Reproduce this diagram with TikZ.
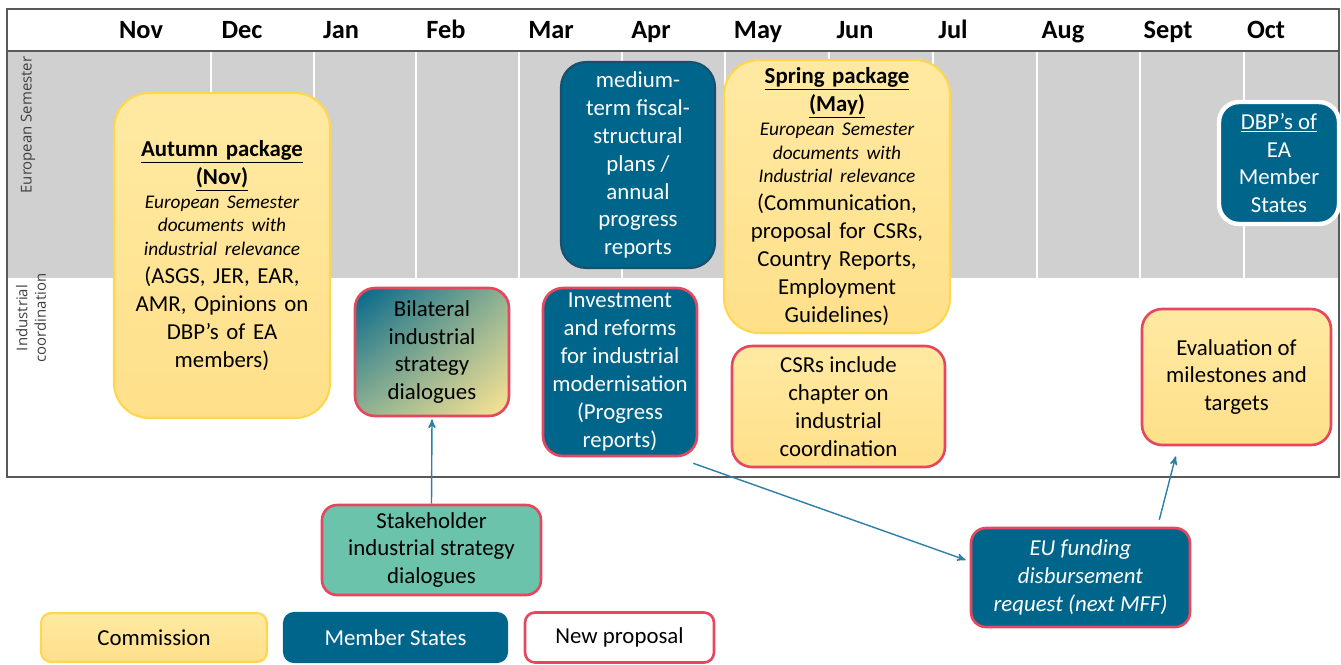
\documentclass[tikz,border=0pt]{standalone}
\usepackage{fontspec}
\setmainfont{Carlito}
\newfontfamily\lanefont{Open Sans}
\usepackage{xcolor}
\usepackage{tikz}
\usetikzlibrary{arrows}
\usetikzlibrary{shadings}
\definecolor{comtop}{HTML}{FFE9A2}
\definecolor{combot}{HTML}{FFE08A}
\definecolor{comfill}{HTML}{FFE594}
\definecolor{comline}{HTML}{FFD64F}
\definecolor{msfill}{HTML}{00658A}
\definecolor{msline}{HTML}{1A4F6E}
\definecolor{newline}{HTML}{E6475E}
\definecolor{mint}{HTML}{6CC3AB}
\definecolor{bimid}{HTML}{8FB292}
\definecolor{bandgray}{HTML}{D0D0D0}
\definecolor{framegray}{HTML}{595959}
\definecolor{lanegray}{HTML}{404040}
\definecolor{arrowblue}{HTML}{2E7FA6}
\newcommand{\bodyfont}{\fontsize{13}{15.9}\selectfont}
\newcommand{\notefont}{\fontsize{11}{13.6}\selectfont\itshape}
\tikzset{
    tl_box/.style = {align=center, inner sep=1pt, rounded corners=0.4cm, line width=1.2pt, font=\bodyfont},
    com_node/.style = {tl_box, top color=comtop, bottom color=combot, draw=comline},
    ms_node/.style = {tl_box, fill=msfill, draw=msline, text=white},
    red_line/.style = {draw=newline, line width=1.5pt},
    month/.style = {anchor=base, font=\fontsize{15}{18}\selectfont\bfseries},
    lane/.style = {rotate=90, align=center, text=lanegray, font=\lanefont\fontsize{8.5}{10.5}\selectfont},
    link/.style = {->, draw=arrowblue, line width=0.8pt}
}
\begin{document}
\begin{tikzpicture}[x=0.02cm, y=-0.02cm, >=stealth']
\useasboundingbox (0,0) rectangle (1341,664);
% timeline grid
\fill[bandgray] (7,51) rectangle (1339,278);
\foreach \x in {211,314,416,519,622,725,829,933,1037,1140,1244}
    \draw[white, line width=1pt] (\x,51) -- (\x,278);
\draw[framegray, line width=1pt] (7,9) rectangle (1339,477);
\draw[framegray, line width=1pt] (7,51) -- (1339,51);
\foreach \m/\x in {Nov/141,Dec/242,Jan/341,Feb/446,Mar/551,Apr/651,May/758,Jun/855,Jul/953,Aug/1063,Sept/1168,Oct/1266}
    \node[month] (m\m) at (\x,38) {\m};
\node[lane] (lane_es) at (28,125) {European Semester};
\node[lane] (lane_ic) at (31,318) {Industrial\\coordination};

% boxes
\node[com_node, rounded corners=0.7cm, minimum width=4.32cm, minimum height=6.5cm, text width=4.1cm] (autumn) at (222,255.5)
    {{\bfseries\underline{Autumn package}\\\underline{(Nov)}\par}{\notefont European Semester\\documents with\\industrial relevance\par}(ASGS, JER, EAR,\\AMR, Opinions on\\DBP's of EA\\members)};
\node[ms_node, rounded corners=0.5cm, minimum width=3.08cm, minimum height=4.12cm] (mtfs) at (638,165)
    {medium-\\term fiscal-\\structural\\plans /\\annual\\progress\\reports};
\node[com_node, rounded corners=0.7cm, minimum width=4.52cm, minimum height=5.46cm, text width=4.35cm] (spring) at (837,196.5)
    {{\bfseries\underline{Spring package}\\\underline{(May)}\par}{\notefont European Semester\\documents with\\Industrial relevance\par}(Communication,\\proposal for CSRs,\\Country Reports,\\Employment\\Guidelines)};
\node[ms_node, draw=white, line width=2.5pt, minimum width=2.4cm, minimum height=2.44cm] (dbp) at (1279,163)
    {\underline{DBP's of}\\EA\\Member\\States};
\node[tl_box, red_line, upper left=msfill, lower right=comfill, upper right=bimid, lower left=bimid,
    minimum width=3.08cm, minimum height=2.56cm] (bilat) at (432,352)
    {Bilateral\\industrial\\strategy\\dialogues};
\node[ms_node, red_line, minimum width=3.08cm, minimum height=3.36cm] (invest) at (620,372)
    {Investment\\and reforms\\for industrial\\modernisation\\(Progress\\reports)};
\node[com_node, red_line, minimum width=4.26cm, minimum height=2.42cm] (csr) at (838.5,406.5)
    {CSRs include\\chapter on\\industrial\\coordination};
\node[com_node, red_line, minimum width=3.78cm, minimum height=2.72cm] (eval) at (1236.5,377)
    {Evaluation of\\milestones and\\targets};
\node[tl_box, red_line, fill=mint, rounded corners=0.3cm, minimum width=4.38cm, minimum height=1.8cm] (stake) at (431.5,550)
    {Stakeholder\\industrial strategy\\dialogues};
\node[ms_node, red_line, font=\bodyfont\itshape, rounded corners=0.3cm, minimum width=4.38cm, minimum height=1.98cm] (eu) at (1080.5,577.5)
    {EU funding\\disbursement\\request (next MFF)};

% legend
\node[com_node, rounded corners=0.2cm, minimum width=4.52cm, minimum height=0.98cm] (leg_com) at (154,637.5) {Commission};
\node[ms_node, draw=msfill, rounded corners=0.2cm, minimum width=4.46cm, minimum height=0.98cm] (leg_ms) at (395.5,637.5) {Member States};
\node[tl_box, red_line, fill=white, rounded corners=0.2cm, minimum width=3.78cm, minimum height=1cm] (leg_new) at (619.5,637.5) {New proposal};

% links
\draw[link] (stake.north) -- ([yshift=-0.04cm]bilat.south);
\draw[link] ([xshift=-0.1cm,yshift=-0.12cm]invest.south east) -- ([xshift=-0.08cm,yshift=0.35cm]eu.west);
\draw[link] ([xshift=-0.64cm,yshift=0.14cm]eu.north east) -- ([xshift=0.7cm,yshift=-0.2cm]eval.south west);
\end{tikzpicture}
\end{document}
